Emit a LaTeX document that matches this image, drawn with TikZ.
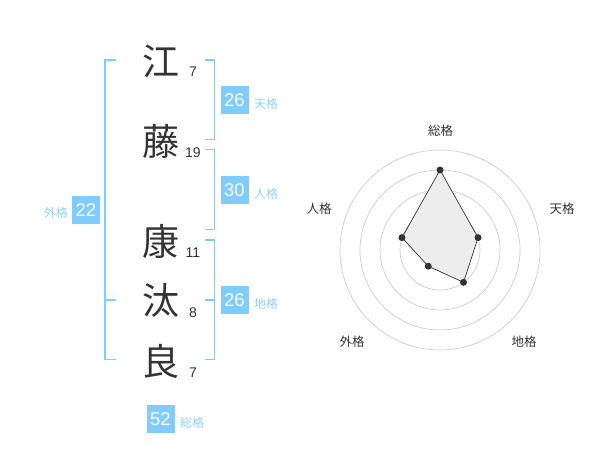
\documentclass[tikz,border=0pt]{standalone}
\usepackage{fontspec}
\setmainfont{Liberation Sans}
\newfontfamily\cjk{Noto Sans CJK JP}
\usetikzlibrary{calc}
\definecolor{bx}{HTML}{80CCFF}
\definecolor{lb}{HTML}{8ED2F8}
\definecolor{ink}{HTML}{333333}
\definecolor{ring}{HTML}{CCCCCC}
\begin{document}
\begin{tikzpicture}[x=1pt,y=-1pt,
  kanji/.style={font=\cjk\fontsize{37}{37}\selectfont,text=ink,inner sep=0pt},
  strokes/.style={font=\fontsize{14}{14}\selectfont,text=ink,inner sep=0pt},
  numbox/.style={fill=bx,text=white,minimum width=28pt,minimum height=28pt,inner sep=0pt,font=\fontsize{18.5}{18.5}\selectfont},
  boxlabel/.style={font=\cjk\fontsize{12}{12}\selectfont,text=lb,inner sep=0pt},
  bracket/.style={draw=bx,line width=1.8pt},
  ringline/.style={draw=ring,line width=0.7pt},
  axislabel/.style={font=\cjk\fontsize{12.5}{12.5}\selectfont,text=ink,inner sep=0pt},
  dot/.style={circle,fill=ink,inner sep=0pt,minimum size=7pt}]
\useasboundingbox (0,0) rectangle (600,470);
% characters
\node[kanji] (k1) at (161,61) {江};
\node[kanji] (k2) at (161,141) {藤};
\node[kanji] (k3) at (161,242) {康};
\node[kanji] (k4) at (161,300) {汰};
\node[kanji] (k5) at (161,361) {良};
\node[strokes] (s1) at (193,72) {7};
\node[strokes] (s2) at (193,153) {19};
\node[strokes] (s3) at (193,253) {11};
\node[strokes] (s4) at (193,313) {8};
\node[strokes] (s5) at (193,373) {7};
% brackets
\draw[bracket] (116,60) -- (105,60) -- (105,359.5) -- (116,359.5);
\draw[bracket] (105,300) -- (116,300);
\draw[bracket] (205,60) -- (214.5,60) -- (214.5,139.5) -- (205,139.5);
\draw[bracket] (205,149.5) -- (214.5,149.5) -- (214.5,229.5) -- (205,229.5);
\draw[bracket] (205,240) -- (214.5,240) -- (214.5,359.5) -- (205,359.5);
\draw[bracket] (214.5,300) -- (205,300);
% boxes
\node[numbox] (g) at (86,210) {22};
\node[boxlabel,anchor=east] (gl) at (68,213) {外格};
\node[numbox] (t) at (234.5,100.5) {26};
\node[boxlabel,anchor=west] (tl) at (254,104) {天格};
\node[numbox] (j) at (234.5,190.5) {30};
\node[boxlabel,anchor=west] (jl) at (254,194) {人格};
\node[numbox] (c) at (234.5,300.5) {26};
\node[boxlabel,anchor=west] (cl) at (254,304) {地格};
\node[numbox] (s) at (160.5,419) {52};
\node[boxlabel,anchor=west] (sl) at (180,423) {総格};
% radar
\coordinate (O) at (440,250);
\foreach \r in {20,40,60,80,100} \draw[ringline] (O) circle[radius=\r];
\node[circle,fill=ring,inner sep=0pt,minimum size=8pt] (ctr) at (O) {};
\path (O) ++(0,-80) coordinate (ps);
\path (O) ++(-18:40) coordinate (pt);
\path (O) ++(54:40) coordinate (pc);
\path (O) ++(126:20) coordinate (pg);
\path (O) ++(198:40) coordinate (pj);
\draw[fill=black!7,draw=ink,line width=0.7pt] (ps) -- (pt) -- (pc) -- (pg) -- (pj) -- cycle;
\foreach \p in {ps,pt,pc,pg,pj} \node[dot] at (\p) {};
\node[axislabel] (as) at (440.5,131) {総格};
\node[axislabel] (at) at (562,209) {天格};
\node[axislabel] (ac) at (524,342) {地格};
\node[axislabel] (ag) at (352,342) {外格};
\node[axislabel] (aj) at (319,209) {人格};
\end{tikzpicture}
\end{document}
